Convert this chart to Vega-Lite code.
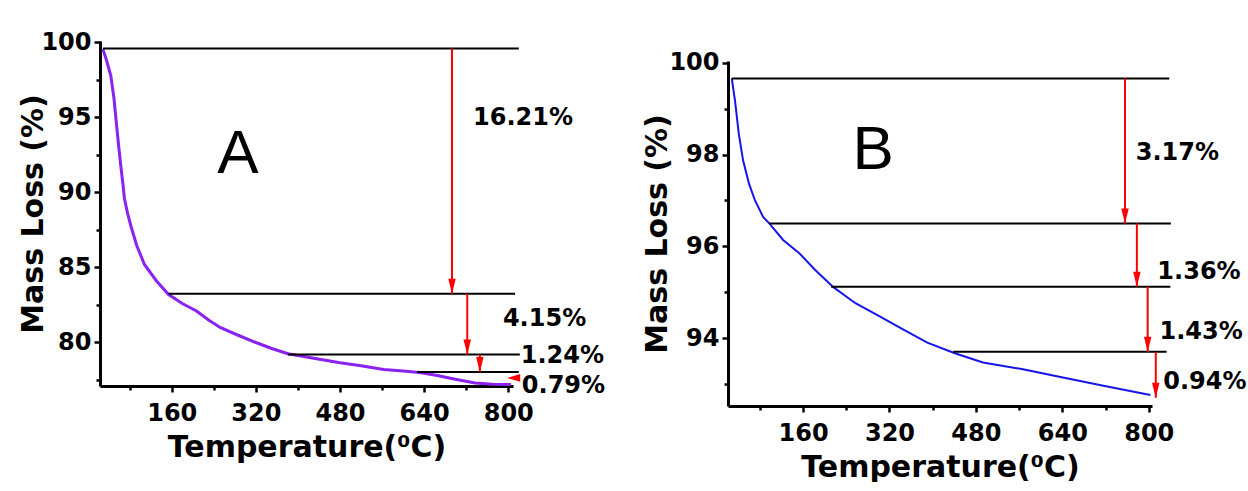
{
  "$schema": "https://vega.github.io/schema/vega-lite/v6.json",
  "background": "white",
  "padding": {"left": 18, "top": 30, "right": 0, "bottom": 0},
  "spacing": 36,
  "config": {
    "view": {"stroke": null},
    "axis": {
      "grid": false,
      "domainColor": "black",
      "domainWidth": 3,
      "tickColor": "black",
      "tickWidth": 2.5,
      "tickSize": 6,
      "labelFont": "DejaVu Sans",
      "labelFontWeight": "bold",
      "labelFontSize": 24,
      "labelColor": "black",
      "labelPadding": 3,
      "titleFont": "DejaVu Sans",
      "titleFontWeight": "bold",
      "titleFontSize": 30,
      "titleColor": "black"
    }
  },
  "datasets": {
    "curveA": [
      {"t": 29, "m": 99.56}, {"t": 36, "m": 98.8}, {"t": 44, "m": 97.8}, {"t": 50, "m": 96.3},
      {"t": 55, "m": 94.5}, {"t": 59, "m": 93.1}, {"t": 63, "m": 91.8}, {"t": 67, "m": 90.6},
      {"t": 70, "m": 89.6}, {"t": 76, "m": 88.6}, {"t": 82, "m": 87.8}, {"t": 93, "m": 86.5},
      {"t": 108, "m": 85.2}, {"t": 131, "m": 84.1}, {"t": 154, "m": 83.2}, {"t": 180, "m": 82.6},
      {"t": 207, "m": 82.1}, {"t": 230, "m": 81.5}, {"t": 252, "m": 81.0}, {"t": 285, "m": 80.5},
      {"t": 320, "m": 80.0}, {"t": 350, "m": 79.6}, {"t": 381, "m": 79.25}, {"t": 430, "m": 78.95},
      {"t": 480, "m": 78.65}, {"t": 520, "m": 78.45}, {"t": 563, "m": 78.2}, {"t": 600, "m": 78.1},
      {"t": 631, "m": 78.0}, {"t": 665, "m": 77.8}, {"t": 699, "m": 77.55}, {"t": 737, "m": 77.3},
      {"t": 770, "m": 77.22}, {"t": 805, "m": 77.2}
    ],
    "hlinesA": [
      {"x0": 29, "x1": 820, "m": 99.6},
      {"x0": 154, "x1": 813, "m": 83.25},
      {"x0": 381, "x1": 822, "m": 79.2},
      {"x0": 627, "x1": 820, "m": 78.03}
    ],
    "arrowsA": [
      {"t": 693, "m0": 99.6, "m1": 83.25},
      {"t": 722, "m0": 83.25, "m1": 79.2},
      {"t": 746, "m0": 79.2, "m1": 78.03}
    ],
    "sideArrowA": [{"t": 798, "m": 77.64}],
    "labelsA": [
      {"t": 828, "m": 95.0, "label": "16.21%"},
      {"t": 869, "m": 81.6, "label": "4.15%"},
      {"t": 903, "m": 79.07, "label": "1.24%"},
      {"t": 905, "m": 77.1, "label": "0.79%"}
    ],
    "letterA": [{"t": 286, "m": 92.6, "label": "A"}],
    "curveB": [
      {"t": 28, "m": 99.66}, {"t": 34, "m": 99.17}, {"t": 41, "m": 98.45}, {"t": 49, "m": 97.87},
      {"t": 60, "m": 97.36}, {"t": 71, "m": 97.0}, {"t": 86, "m": 96.64}, {"t": 99, "m": 96.48},
      {"t": 123, "m": 96.14}, {"t": 153, "m": 95.85}, {"t": 182, "m": 95.49}, {"t": 216, "m": 95.11},
      {"t": 257, "m": 94.76}, {"t": 301, "m": 94.48}, {"t": 345, "m": 94.19}, {"t": 390, "m": 93.9},
      {"t": 441, "m": 93.67}, {"t": 493, "m": 93.47}, {"t": 567, "m": 93.32}, {"t": 641, "m": 93.14},
      {"t": 716, "m": 92.96}, {"t": 803, "m": 92.76}
    ],
    "hlinesB": [
      {"x0": 28, "x1": 838, "m": 99.66},
      {"x0": 97, "x1": 841, "m": 96.5},
      {"x0": 212, "x1": 840, "m": 95.12},
      {"x0": 438, "x1": 833, "m": 93.7}
    ],
    "arrowsB": [
      {"t": 756, "m0": 99.66, "m1": 96.5},
      {"t": 778, "m0": 96.5, "m1": 95.12},
      {"t": 798, "m0": 95.12, "m1": 93.7},
      {"t": 813, "m0": 93.7, "m1": 92.7}
    ],
    "labelsB": [
      {"t": 853, "m": 98.03, "label": "3.17%"},
      {"t": 893, "m": 95.44, "label": "1.36%"},
      {"t": 897, "m": 94.13, "label": "1.43%"},
      {"t": 904, "m": 93.05, "label": "0.94%"}
    ],
    "letterB": [{"t": 290, "m": 98.1, "label": "B"}]
  },
  "hconcat": [
    {
      "width": 413,
      "height": 345,
      "resolve": {"axis": {"x": "independent", "y": "independent"}},
      "layer": [
        {
          "data": {"name": "curveA"},
          "mark": {"type": "line", "color": "#8a22f0", "strokeWidth": 3},
          "encoding": {
            "x": {"field": "t", "type": "quantitative", "scale": {"domain": [23.5, 809], "nice": false, "zero": false},
                  "axis": {"orient": "bottom", "values": [160, 320, 480, 640, 800], "title": "Temperature(⁰C)", "labelPadding": 9, "titlePadding": 7}},
            "y": {"field": "m", "type": "quantitative", "scale": {"domain": [77.1, 100.1], "nice": false, "zero": false},
                  "axis": {"orient": "left", "values": [80, 85, 90, 95, 100], "title": "Mass Loss (%)", "titlePadding": -8}}
          }
        },
        {
          "data": {"name": "curveA"},
          "mark": {"type": "point", "opacity": 0},
          "encoding": {
            "x": {"field": "t", "type": "quantitative", "axis": {"orient": "bottom", "values": [80, 240, 400, 560, 720], "labels": false, "domain": false, "tickSize": 4, "title": null}},
            "y": {"field": "m", "type": "quantitative", "axis": {"orient": "left", "values": [77.5, 82.5, 87.5, 92.5, 97.5], "labels": false, "domain": false, "tickSize": 4, "title": null}}
          }
        },
        {
          "data": {"name": "hlinesA"},
          "mark": {"type": "rule", "color": "black", "strokeWidth": 2},
          "encoding": {
            "x": {"field": "x0", "type": "quantitative", "axis": null},
            "x2": {"field": "x1"},
            "y": {"field": "m", "type": "quantitative", "axis": null}
          }
        },
        {
          "data": {"name": "arrowsA"},
          "mark": {"type": "rule", "color": "#ff0000", "strokeWidth": 2},
          "encoding": {
            "x": {"field": "t", "type": "quantitative", "axis": null},
            "y": {"field": "m0", "type": "quantitative", "axis": null},
            "y2": {"field": "m1"}
          }
        },
        {
          "data": {"name": "arrowsA"},
          "mark": {"type": "point", "shape": "M-0.5,-2L0.5,-2L0,0Z", "filled": true, "color": "#ff0000", "opacity": 1, "size": 225, "strokeWidth": 0},
          "encoding": {
            "x": {"field": "t", "type": "quantitative", "axis": null},
            "y": {"field": "m1", "type": "quantitative", "axis": null}
          }
        },
        {
          "data": {"name": "sideArrowA"},
          "mark": {"type": "point", "shape": "M0,0L2,-0.6L2,0.6Z", "filled": true, "color": "#ff0000", "opacity": 1, "size": 169, "strokeWidth": 0},
          "encoding": {
            "x": {"field": "t", "type": "quantitative", "axis": null},
            "y": {"field": "m", "type": "quantitative", "axis": null}
          }
        },
        {
          "data": {"name": "labelsA"},
          "mark": {"type": "text", "font": "DejaVu Sans", "fontWeight": "bold", "fontSize": 24, "color": "black", "align": "center", "baseline": "middle"},
          "encoding": {
            "x": {"field": "t", "type": "quantitative", "axis": null},
            "y": {"field": "m", "type": "quantitative", "axis": null},
            "text": {"field": "label"}
          }
        },
        {
          "data": {"name": "letterA"},
          "mark": {"type": "text", "font": "Liberation Sans", "fontSize": 62, "color": "black", "align": "center", "baseline": "middle"},
          "encoding": {
            "x": {"field": "t", "type": "quantitative", "axis": null},
            "y": {"field": "m", "type": "quantitative", "axis": null},
            "text": {"field": "label"}
          }
        }
      ]
    },
    {
      "spacing": 3,
      "vconcat": [
        {
          "width": 424,
          "height": 1,
          "data": {"values": [{"label": ""}]},
          "mark": {"type": "text"},
          "encoding": {"text": {"field": "label"}}
        },
        {
          "width": 424,
          "height": 345,
          "resolve": {"axis": {"x": "independent", "y": "independent"}},
          "layer": [
            {
              "data": {"name": "curveB"},
              "mark": {"type": "line", "color": "#1515e8", "strokeWidth": 2},
              "encoding": {
                "x": {"field": "t", "type": "quantitative", "scale": {"domain": [21, 806], "nice": false, "zero": false},
                      "axis": {"orient": "bottom", "values": [160, 320, 480, 640, 800], "title": "Temperature(⁰C)", "labelPadding": 9, "titlePadding": 7}},
                "y": {"field": "m", "type": "quantitative", "scale": {"domain": [92.52, 100.04], "nice": false, "zero": false},
                      "axis": {"orient": "left", "values": [94, 96, 98, 100], "title": "Mass Loss (%)", "titlePadding": -4}}
              }
            },
            {
              "data": {"name": "curveB"},
              "mark": {"type": "point", "opacity": 0},
              "encoding": {
                "x": {"field": "t", "type": "quantitative", "axis": {"orient": "bottom", "values": [80, 240, 400, 560, 720], "labels": false, "domain": false, "tickSize": 4, "title": null}},
                "y": {"field": "m", "type": "quantitative", "axis": {"orient": "left", "values": [93, 95, 97, 99], "labels": false, "domain": false, "tickSize": 4, "title": null}}
              }
            },
            {
              "data": {"name": "hlinesB"},
              "mark": {"type": "rule", "color": "black", "strokeWidth": 2},
              "encoding": {
                "x": {"field": "x0", "type": "quantitative", "axis": null},
                "x2": {"field": "x1"},
                "y": {"field": "m", "type": "quantitative", "axis": null}
              }
            },
            {
              "data": {"name": "arrowsB"},
              "mark": {"type": "rule", "color": "#ff0000", "strokeWidth": 2},
              "encoding": {
                "x": {"field": "t", "type": "quantitative", "axis": null},
                "y": {"field": "m0", "type": "quantitative", "axis": null},
                "y2": {"field": "m1"}
              }
            },
            {
              "data": {"name": "arrowsB"},
              "mark": {"type": "point", "shape": "M-0.5,-2L0.5,-2L0,0Z", "filled": true, "color": "#ff0000", "opacity": 1, "size": 225, "strokeWidth": 0},
              "encoding": {
                "x": {"field": "t", "type": "quantitative", "axis": null},
                "y": {"field": "m1", "type": "quantitative", "axis": null}
              }
            },
            {
              "data": {"name": "labelsB"},
              "mark": {"type": "text", "font": "DejaVu Sans", "fontWeight": "bold", "fontSize": 24, "color": "black", "align": "center", "baseline": "middle"},
              "encoding": {
                "x": {"field": "t", "type": "quantitative", "axis": null},
                "y": {"field": "m", "type": "quantitative", "axis": null},
                "text": {"field": "label"}
              }
            },
            {
              "data": {"name": "letterB"},
              "mark": {"type": "text", "font": "Liberation Sans", "fontSize": 62, "color": "black", "align": "center", "baseline": "middle"},
              "encoding": {
                "x": {"field": "t", "type": "quantitative", "axis": null},
                "y": {"field": "m", "type": "quantitative", "axis": null},
                "text": {"field": "label"}
              }
            }
          ]
        }
      ]
    }
  ]
}
